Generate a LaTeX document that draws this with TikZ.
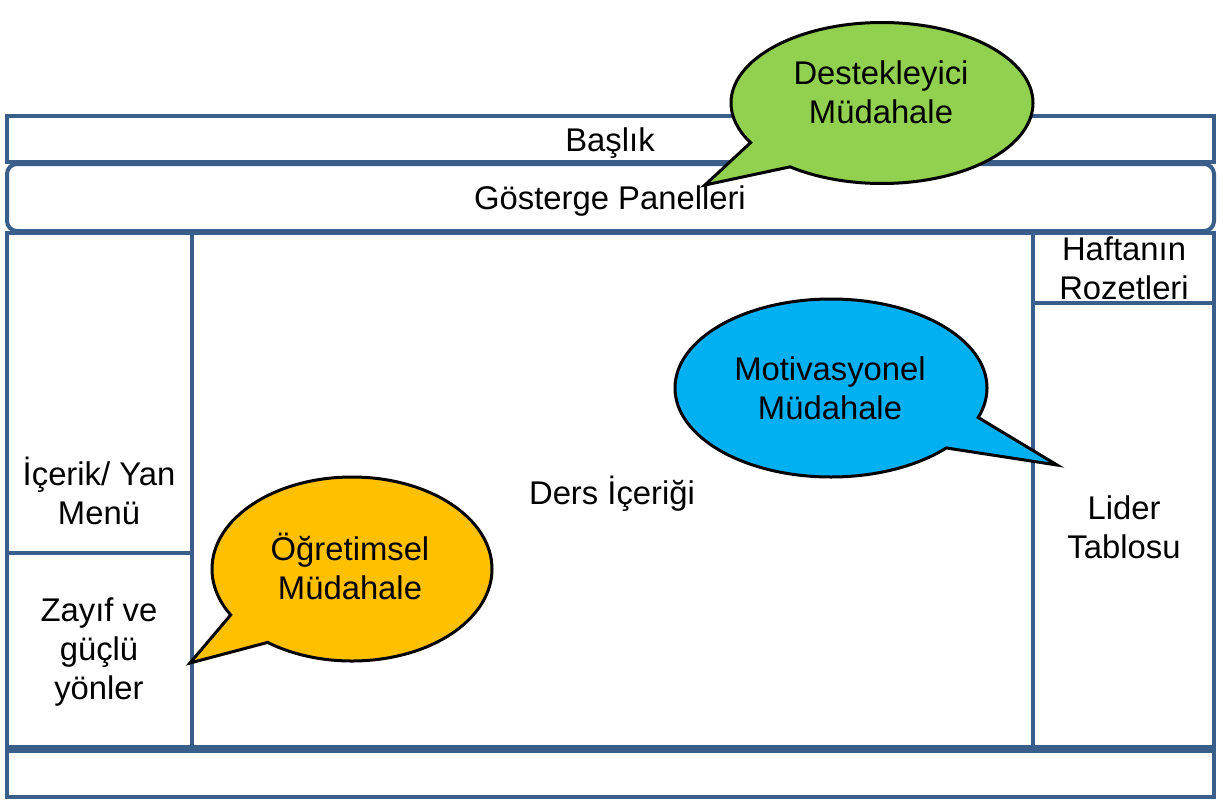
\documentclass[tikz,border=0pt]{standalone}
\usepackage{fontspec}
\setmainfont{Liberation Sans}
\usetikzlibrary{shapes.callouts}
\definecolor{frameblue}{RGB}{58,94,138}
\definecolor{balloongreen}{RGB}{146,208,80}
\definecolor{balloonblue}{RGB}{0,176,240}
\definecolor{balloonorange}{RGB}{255,192,0}
\begin{document}
\begin{tikzpicture}[x=1pt,y=-1pt,
  panel/.style={draw=frameblue,line width=4pt,fill=white},
  txt/.style={font=\fontsize{32.8}{39}\selectfont,align=center,inner sep=0pt,text=black},
  balloon/.style={ellipse callout,draw=black,line width=3pt,callout pointer arc=23,inner sep=0pt}
]
\useasboundingbox (0,0) rectangle (1223,803);

% page layout: header, dashboard strip, three columns, footer
\draw[panel] (7,116) rectangle (1214,162);
\draw[panel,rounded corners=10pt] (7,164) rectangle (1214,231);
\draw[panel] (7,233) rectangle (192,553);
\draw[panel] (7,553) rectangle (192,747);
\draw[panel] (192,233) rectangle (1033,747);
\draw[panel] (1033,233) rectangle (1214,303);
\draw[panel] (1033,303) rectangle (1214,747);
\draw[panel] (7,751) rectangle (1214,797);

% panel captions
\node[txt,anchor=base] (baslik) at (610,151) {Başlık};
\node[txt,anchor=base] (gosterge) at (610,209) {Gösterge Panelleri};
\node[txt] (menu) at (99,491) {İçerik/ Yan\\Menü};
\node[txt] (zayif) at (99,652) {Zayıf ve\\güçlü\\yönler};
\node[txt,anchor=base] (ders) at (612,504) {Ders İçeriği};
\node[txt] (rozet) at (1124,268) {Haftanın\\Rozetleri};
\node[txt] (lider) at (1124,527) {Lider\\Tablosu};

% speech balloons with their pointer tips
\coordinate (tipG) at (705,185);
\coordinate (tipB) at (1057,465);
\coordinate (tipO) at (190,663);

\node[balloon,fill=balloongreen,minimum width=302pt,minimum height=161pt,
      callout absolute pointer={(tipG)}] (destek) at (882,103) {};
\node[txt] (destektxt) at (881,92) {Destekleyici\\Müdahale};

\node[balloon,fill=balloonblue,minimum width=312pt,minimum height=178pt,
      callout absolute pointer={(tipB)}] (motiv) at (831,388) {};
\node[txt] (motivtxt) at (830,388) {Motivasyonel\\Müdahale};

\node[balloon,fill=balloonorange,minimum width=280pt,minimum height=184pt,
      callout absolute pointer={(tipO)}] (ogret) at (352,569) {};
\node[txt] (ogrettxt) at (350,566) {Öğretimsel\\Müdahale};
\end{tikzpicture}
\end{document}
